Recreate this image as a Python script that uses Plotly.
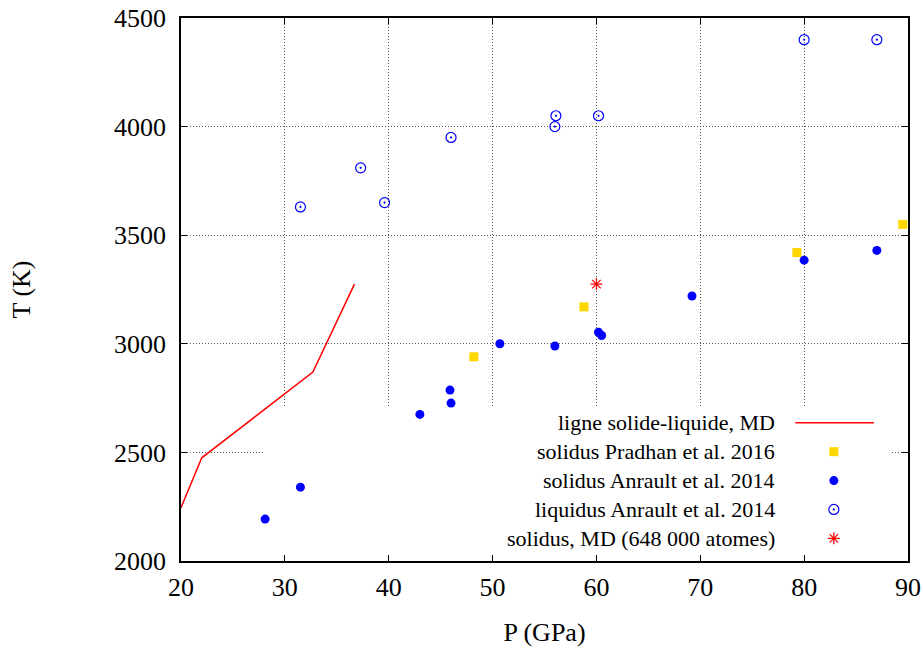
import plotly.graph_objects as go

# ---- data ----
md_line_P = [20.0, 22.0, 32.7, 36.7]
md_line_T = [2245, 2475, 2870, 3275]

pradhan_P = [48.2, 58.8, 79.3, 89.5]
pradhan_T = [2940, 3170, 3420, 3550]

anrault_sol_P = [28.1, 31.5, 43.0, 45.9, 46.0, 50.7, 56.0, 60.2, 60.5, 69.2, 80.0, 87.0]
anrault_sol_T = [2193, 2340, 2675, 2787, 2727, 3000, 2990, 3053, 3038, 3220, 3385, 3430]

anrault_liq_P = [31.5, 37.3, 39.6, 46.0, 56.1, 56.0, 60.2, 80.0, 87.0]
anrault_liq_T = [3630, 3810, 3650, 3950, 4050, 4000, 4050, 4400, 4400]

md_sol_P = [60.0]
md_sol_T = [3275]

legend_labels = [
    "ligne solide-liquide, MD",
    "solidus Pradhan et al. 2016",
    "solidus Anrault et al. 2014",
    "liquidus Anrault et al. 2014",
    "solidus, MD (648 000 atomes)",
]

x_ticks = [20, 30, 40, 50, 60, 70, 80, 90]
y_ticks = [2000, 2500, 3000, 3500, 4000, 4500]

X_RANGE = [20, 90]
Y_RANGE = [2000, 4500]

FONT = "Liberation Serif"
RED = "#ff0000"
GOLD = "#ffd700"
BLUE = "#0000ff"


def fx(f):
    """axis-domain fraction -> data x"""
    return X_RANGE[0] + f * (X_RANGE[1] - X_RANGE[0])


def fy(f):
    """axis-domain fraction -> data y"""
    return Y_RANGE[0] + f * (Y_RANGE[1] - Y_RANGE[0])


fig = go.Figure()

# ---- legend background box (hides grid, under the data) ----
box = dict(x0=0.115, x1=0.978, y0=0.006, y1=0.284)
fig.add_trace(go.Scatter(
    x=[fx(box["x0"]), fx(box["x1"]), fx(box["x1"]), fx(box["x0"]), fx(box["x0"])],
    y=[fy(box["y0"]), fy(box["y0"]), fy(box["y1"]), fy(box["y1"]), fy(box["y0"])],
    mode="lines", fill="toself", fillcolor="white", line=dict(width=0, color="white"),
    hoverinfo="skip", showlegend=False))

# ---- data traces ----
line_style = dict(color=RED, width=1.5)
sq_style = dict(symbol="square", size=9, color=GOLD)
dot_style = dict(symbol="circle", size=9, color=BLUE)
open_style = dict(symbol="circle-open-dot", size=10, color=BLUE, line=dict(width=1.2, color=BLUE))
star_style = dict(symbol="asterisk-open", size=10, color=RED, line=dict(width=1.2, color=RED))

fig.add_trace(go.Scatter(x=md_line_P, y=md_line_T, mode="lines", line=line_style, showlegend=False))
fig.add_trace(go.Scatter(x=pradhan_P, y=pradhan_T, mode="markers", marker=sq_style, showlegend=False))
fig.add_trace(go.Scatter(x=anrault_sol_P, y=anrault_sol_T, mode="markers", marker=dot_style, showlegend=False))
fig.add_trace(go.Scatter(x=anrault_liq_P, y=anrault_liq_T, mode="markers", marker=open_style, showlegend=False))
fig.add_trace(go.Scatter(x=md_sol_P, y=md_sol_T, mode="markers", marker=star_style, showlegend=False))

# ---- custom legend (gnuplot style: text right-aligned, symbol on the right) ----
leg_y0 = 0.2545
leg_dy = 0.0532
leg_text_x = 0.820
leg_sym_x = 0.898
leg_line_x = [0.845, 0.953]
rows_y = [leg_y0 - i * leg_dy for i in range(len(legend_labels))]

fig.add_trace(go.Scatter(x=[fx(v) for v in leg_line_x], y=[fy(rows_y[0])] * 2,
                         mode="lines", line=line_style, showlegend=False, hoverinfo="skip"))
for style, yy in zip([sq_style, dot_style, open_style, star_style], rows_y[1:]):
    fig.add_trace(go.Scatter(x=[fx(leg_sym_x)], y=[fy(yy)], mode="markers", marker=style,
                             showlegend=False, hoverinfo="skip"))

for lab, yy in zip(legend_labels, rows_y):
    fig.add_annotation(text=lab, xref="x domain", yref="y domain", x=leg_text_x, y=yy,
                       xanchor="right", yanchor="middle", showarrow=False,
                       font=dict(family=FONT, size=22, color="black"))

axis_common = dict(
    showline=True, linecolor="black", linewidth=1.5, mirror="ticks",
    ticks="inside", ticklen=6, tickcolor="black", tickwidth=1,
    showgrid=True, gridcolor="#555555", griddash="1px,2px", gridwidth=1,
    zeroline=False, automargin=False,
    tickfont=dict(family=FONT, size=26, color="black"),
)

fig.update_layout(
    width=923, height=650,
    margin=dict(l=181, r=15, t=18, b=89),
    paper_bgcolor="white", plot_bgcolor="white",
    showlegend=False,
    xaxis=dict(range=X_RANGE, tickvals=x_ticks, ticktext=[str(v) for v in x_ticks],
               title=dict(text="P (GPa)", font=dict(family=FONT, size=26, color="black"), standoff=22),
               ticklabelstandoff=2, **axis_common),
    yaxis=dict(range=Y_RANGE, tickvals=y_ticks, ticktext=[str(v) for v in y_ticks],
               title=dict(text="T (K)", font=dict(family=FONT, size=26, color="black"), standoff=76),
               ticklabelstandoff=8, **axis_common),
)

fig.write_html("out.html", config={"displayModeBar": False},
               post_script="document.body.style.margin='0';")
